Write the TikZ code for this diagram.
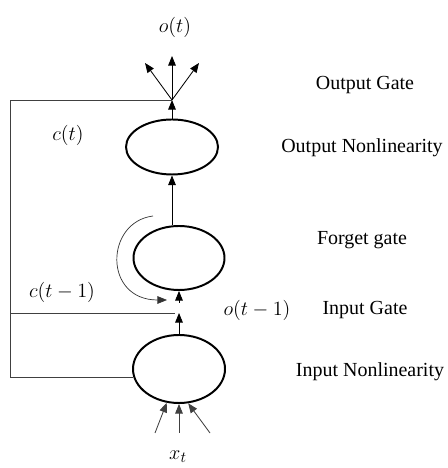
\documentclass[tikz,border=0pt]{standalone}
\usepackage{fontspec}
\setmainfont{Liberation Serif}
\usetikzlibrary{arrows.meta,calc,positioning,shapes.geometric}
\tikzset{flow/.style={-{Triangle[length=2.4mm, width=1.9mm]}, line width=0.6pt},
  wire/.style={line width=0.6pt, draw=black!75},
  unit/.style={draw, ellipse, line width=1.4pt, inner sep=0pt},
  sym/.style={font=\fontsize{15.5}{18}\selectfont}}

\begin{document}
\begin{tikzpicture}[font=\fontsize{14.2}{17}\selectfont]
  \useasboundingbox (0,0) rectangle (11.175,11.7);
  % the three cells
  \node[unit, minimum width=23mm, minimum height=13.75mm] (outnl) at (4.3,8.025) {};
  \node[unit, minimum width=22.75mm, minimum height=16mm] (fgt) at (4.475,5.25) {};
  \node[unit, minimum width=23mm, minimum height=17mm] (innl) at (4.475,2.475) {};
  \coordinate (jn) at (4.3,9.2);
  \coordinate (lft) at (0.25,9.2);
  \coordinate (cin) at (4.375,3.875);
  \coordinate (gap) at (4.475,4.125);
  \coordinate (ol) at (3.625,10.125);
  \coordinate (om) at (4.3,10.3);
  \coordinate (or) at (4.975,10.125);
  \coordinate (cs) at (3.825,6.3);
  \coordinate (ce) at (4.175,4.2);
  \coordinate (i1) at (3.875,0.875);
  \coordinate (i2) at (4.475,0.875);
  \coordinate (i3) at (5.25,0.875);
  % vertical flow
  \draw[flow] (innl.north) -- (innl.north |- cin);
  \draw[flow] (gap) -- (fgt.south);
  \draw[flow] (outnl.south |- fgt.north) -- (outnl.south);
  \draw[flow] (outnl.north) -- (jn);
  \draw[flow] (jn) -- (ol);
  \draw[flow] (jn) -- (om);
  \draw[flow] (jn) -- (or);
  % cell state loop
  \draw[wire] (innl.190) -| (lft) -- (jn);
  \draw[wire] (lft |- cin) -- (cin);
  \draw[flow, line width=0.5pt, black!80] (cs) .. controls (2.625,6.15) and (2.575,4.2) .. (ce);
  % inputs
  \draw[flow, black!75] (i1) -- (innl.250);
  \draw[flow, black!75] (i2) -- (innl.south);
  \draw[flow, black!75] (i3) -- (innl.285);
  % labels
  \node[sym] (ot) at (4.375,11.025) {$o(t)$};
  \node[sym] (ct) at (1.7,8.325) {$c(t)$};
  \node[sym] (ctm) at (1.55,4.4) {$c(t-1)$};
  \node[sym] (otm) at (6.425,3.95) {$o(t-1)$};
  \node[sym, anchor=base] (xt) at (4.45,0.22) {$x_t$};
  \node (og) at (9.125,9.575) {Output Gate};
  \node (onl) at (9.05,8.0) {Output Nonlinearity};
  \node (fg) at (9.05,5.7) {Forget gate};
  \node (ig) at (9.125,3.95) {Input Gate};
  \node (inl) at (9.25,2.4) {Input Nonlinearity};
\end{tikzpicture}
\end{document}
